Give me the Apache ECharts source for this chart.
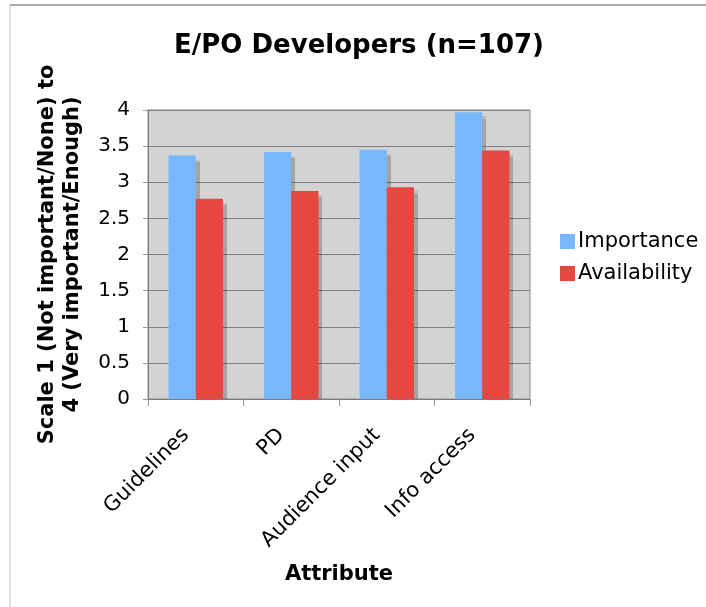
<!DOCTYPE html>
<html>
<head>
<meta charset="utf-8">
<style>
  html, body { margin: 0; padding: 0; background: #ffffff; }
  #chart { width: 706px; height: 607px; }
</style>
<script src="https://cdn.jsdelivr.net/npm/echarts@6/dist/echarts.min.js"></script>
</head>
<body>
<div id="chart"></div>
<script>
// Survey attributes and mean ratings (1–4 scale)
const categories = ['Guidelines', 'PD', 'Audience input', 'Info access'];
const importance = [3.37, 3.42, 3.45, 3.97];
const availability = [2.77, 2.88, 2.93, 3.44];
const yTicks = { min: 0, max: 4, interval: 0.5 };

const FONT = '"DejaVu Sans", Verdana, sans-serif';
const barShadow = { shadowColor: 'rgba(0,0,0,0.22)', shadowOffsetX: 4, shadowOffsetY: 4, shadowBlur: 1 };

const chart = echarts.init(document.getElementById('chart'), null, { renderer: 'canvas' });

chart.setOption({
  backgroundColor: '#ffffff',
  animation: false,
  textStyle: { fontFamily: FONT },
  title: {
    text: 'E/PO Developers (n=107)',
    left: 354,
    textAlign: 'center',
    top: 28,
    textStyle: { fontFamily: FONT, fontSize: 26, fontWeight: 'bold', color: '#000' }
  },
  legend: {
    orient: 'vertical',
    left: 555,
    top: 226,
    itemWidth: 15,
    itemHeight: 15,
    itemGap: 11,
    icon: 'rect',
    textStyle: { fontFamily: FONT, fontSize: 21, color: '#000', padding: [0, 0, 0, -2] },
    data: ['Importance', 'Availability']
  },
  grid: { left: 148, top: 110, right: 176, bottom: 208, show: true, backgroundColor: '#d3d3d3', borderColor: '#8a8a8a', borderWidth: 1 },
  xAxis: {
    type: 'category',
    data: categories,
    z: 5,
    name: 'Attribute',
    nameLocation: 'middle',
    nameGap: 165,
    nameTextStyle: { fontFamily: FONT, fontSize: 21, fontWeight: 'bold', color: '#000' },
    axisLine: { lineStyle: { color: '#7a7a7a', width: 1 } },
    axisTick: { show: true, length: 7, lineStyle: { color: '#9a9a9a' } },
    axisLabel: { rotate: 45, fontFamily: FONT, fontSize: 21, color: '#000', margin: 23, padding: [0, 14, 0, 0], interval: 0 }
  },
  yAxis: {
    type: 'value',
    min: yTicks.min,
    max: yTicks.max,
    interval: yTicks.interval,
    name: 'Scale 1 (Not important/None) to\n4 (Very important/Enough)',
    nameLocation: 'middle',
    nameGap: 63,
    nameTextStyle: { fontFamily: FONT, fontSize: 21, fontWeight: 'bold', color: '#000', lineHeight: 25 },
    axisLine: { show: true, lineStyle: { color: '#7a7a7a' } },
    axisTick: { show: true, length: 5, lineStyle: { color: '#9a9a9a' } },
    axisLabel: { fontFamily: FONT, fontSize: 20, color: '#000', margin: 18 },
    splitLine: { lineStyle: { color: '#808080', width: 1 } }
  },
  series: [
    {
      name: 'Importance',
      type: 'bar',
      data: importance,
      barGap: '0%',
      barCategoryGap: '43%',
      itemStyle: Object.assign({ color: '#77b8fc' }, barShadow)
    },
    {
      name: 'Availability',
      type: 'bar',
      data: availability,
      itemStyle: Object.assign({ color: '#e54741' }, barShadow)
    }
  ],
  graphic: [
    // keep bar shadows inside the plot area
    { type: 'rect', z: 4, shape: { x: 149, y: 400, width: 385, height: 6 }, style: { fill: '#ffffff' } },
    { type: 'line', shape: { x1: 10, y1: 5, x2: 706, y2: 5 }, style: { stroke: '#8c8c8c', lineWidth: 1.5 } },
    { type: 'line', shape: { x1: 10, y1: 5, x2: 10, y2: 607 }, style: { stroke: '#c4c4c4', lineWidth: 1 } }
  ]
});
</script>
</body>
</html>
